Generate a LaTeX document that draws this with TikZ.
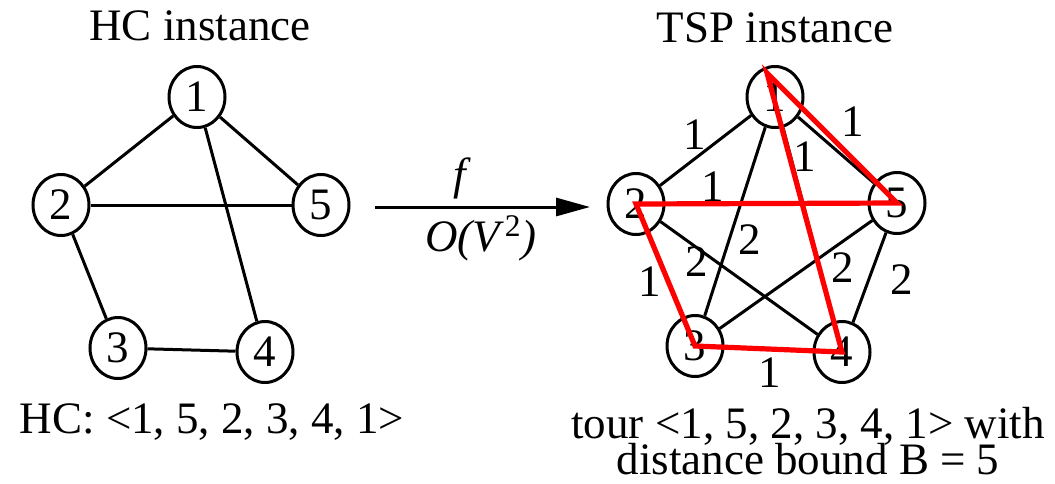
\documentclass[tikz,border=0pt]{standalone}
\usepackage{fontspec}
\setmainfont{Liberation Serif}
\usetikzlibrary{arrows.meta,shapes.geometric}

\begin{document}
\begin{tikzpicture}[x=0.5pt,y=-0.5pt,>={Triangle[length=17pt,width=9pt]}]
  \tikzstyle{vtx}=[draw,ellipse,line width=1.5pt,minimum width=28pt,minimum height=30.5pt,inner sep=0pt]
  \tikzstyle{lbl}=[inner sep=0pt,font=\fontsize{22.5}{26}\selectfont]
  \tikzstyle{edge}=[line width=1.5pt]
  \useasboundingbox (0,0) rectangle (1055,483);
  % HC instance
  \node[lbl,anchor=base] (hctitle) at (200,40) {HC instance};
  \node[vtx,lbl] (h1) at (197,97) {1};
  \node[vtx,lbl] (h2) at (61,205) {2};
  \node[vtx,lbl] (h5) at (321,205) {5};
  \node[vtx,lbl] (h3) at (118,348) {3};
  \node[vtx,lbl] (h4) at (265,352) {4};
  \draw[edge] (h1) -- (h2);
  \draw[edge] (h1) -- (h5);
  \draw[edge] (h1) -- (h4);
  \draw[edge] (h2) -- (h5);
  \draw[edge] (h2) -- (h3);
  \draw[edge] (h3) -- (h4);
  \node[lbl,anchor=base] (hcseq) at (212,433) {HC: <1, 5, 2, 3, 4, 1>};
  % reduction
  \coordinate (fa) at (375,207);
  \coordinate (fb) at (590,207);
  \draw[edge,->] (fa) -- (fb);
  \node[lbl] (f) at (462,178) {\textit{f}};
  \node[lbl] (cost) at (481,238) {\textit{O(V}\textsuperscript{2}\textit{)}};
  % TSP instance
  \node[lbl,anchor=base] (tsptitle) at (775,42) {TSP instance};
  \node[vtx,lbl] (t1) at (775,97) {1};
  \node[vtx,lbl] (t2) at (636,204) {2};
  \node[vtx,lbl] (t5) at (897,203) {5};
  \node[vtx,lbl] (t3) at (695,346) {3};
  \node[vtx,lbl] (t4) at (842,352) {4};
  \foreach \a/\b in {1/2,1/3,1/4,1/5,2/3,2/4,2/5,3/4,3/5,4/5}
    \draw[edge] (t\a) -- (t\b);
  \node[lbl] (w12) at (695,135) {1};
  \node[lbl] (w15) at (853,122) {1};
  \node[lbl] (w14) at (805,157) {1};
  \node[lbl] (w25) at (713,187) {1};
  \node[lbl] (w13) at (750,240) {2};
  \node[lbl] (w24) at (697,262) {2};
  \node[lbl] (w35) at (843,268) {2};
  \node[lbl] (w45) at (902,280) {2};
  \node[lbl] (w23) at (650,282) {1};
  \node[lbl] (w34) at (770,373) {1};
  % tour
  \coordinate (c1) at (767,73);
  \draw[red,line width=2.6pt] (c1) -- (t5.center) -- (t2.center) -- (t3.center) -- (t4.center) -- cycle;
  \node[lbl,anchor=base] (tour) at (808,438) {tour <1, 5, 2, 3, 4, 1> with};
  \node[lbl,anchor=base] (bound) at (808,474) {distance bound B = 5};
\end{tikzpicture}
\end{document}
